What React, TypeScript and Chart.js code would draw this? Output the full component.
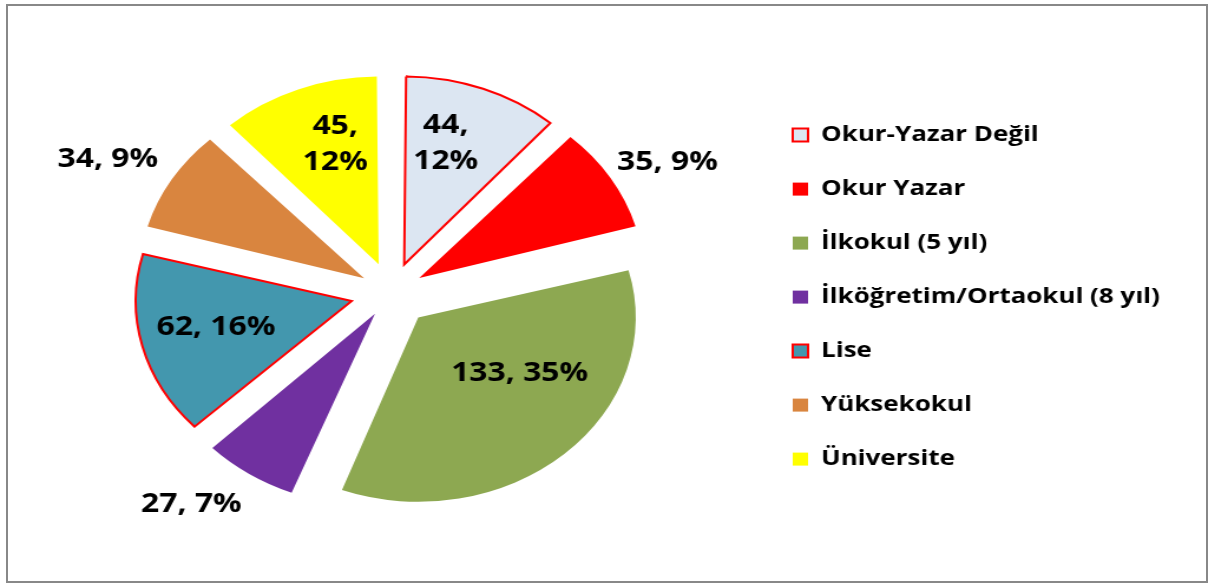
import React, { useEffect, useRef } from 'react';
import { Chart, registerables } from 'chart.js';

Chart.register(...registerables);

// ---- data ----
const categories = [
  'Okur-Yazar Değil',
  'Okur Yazar',
  'İlkokul (5 yıl)',
  'İlköğretim/Ortaokul (8 yıl)',
  'Lise',
  'Yüksekokul',
  'Üniversite',
];
const counts = [44, 35, 133, 27, 62, 34, 45];
const percents = [12, 9, 35, 7, 16, 9, 12];

// ---- styles ----
const fillColors = ['#DCE6F2', '#FF0000', '#8DA851', '#7030A0', '#4397AE', '#D9853F', '#FFFF00'];
const borderColors = ['#FF0000', '#FF0000', '#8DA851', '#7030A0', '#FF0000', '#D9853F', '#FFFF00'];
const borderWidths = [2, 0, 0, 0, 2, 0, 0];
const labelRadius = [0.65, 1.28, 0.54, 1.3, 0.634, 1.32, 0.65];
const labelAngleShift = [-5, 3, -16, 6, 1.6, -2.7, 4.6];
const labelSplit = [true, false, false, false, false, false, true];

const FONT_FAMILY = '"Open Sans", "Noto Sans", sans-serif';
const CANVAS_W = 1024; // drawn narrower, then stretched horizontally like the original
const CANVAS_H = 585;
const DISPLAY_W = 1208;
const PIE_RADIUS = 178;
const EXPLODE = 40;
const LEGEND_W = 384;

const total = counts.reduce((a, b) => a + b, 0);

const legendWidthPlugin = {
  id: 'legendWidth',
  beforeLayout(chart: any) {
    const lg = chart.legend;
    if (lg && !lg.__patched) {
      const orig = lg.fit;
      lg.fit = function () {
        orig.call(this);
        this.width = LEGEND_W;
      };
      lg.__patched = true;
    }
  },
};

const sliceLabelPlugin = {
  id: 'sliceLabels',
  afterDatasetsDraw(chart: any) {
    const ctx = chart.ctx;
    const meta = chart.getDatasetMeta(0);
    ctx.save();
    ctx.font = `bold 27px ${FONT_FAMILY}`;
    ctx.fillStyle = '#000000';
    ctx.textAlign = 'center';
    ctx.textBaseline = 'middle';
    meta.data.forEach((arc: any, i: number) => {
      const p = arc.getProps(['x', 'y', 'startAngle', 'endAngle', 'outerRadius', 'circumference'], true);
      const off = (arc.options.offset || 0) / 4;
      const fix = 1 - Math.sin(Math.min(Math.PI, p.circumference || 0));
      const actual = off * (1 + fix);
      const mid = (p.startAngle + p.endAngle) / 2;
      const ax = p.x + Math.cos(mid) * actual;
      const ay = p.y + Math.sin(mid) * actual;
      const a = mid + (labelAngleShift[i] * Math.PI) / 180;
      const r = labelRadius[i] * p.outerRadius;
      const lx = ax + Math.cos(a) * r;
      const ly = ay + Math.sin(a) * r;
      const lines = labelSplit[i]
        ? [`${counts[i]},`, `${percents[i]}%`]
        : [`${counts[i]}, ${percents[i]}%`];
      const lh = 36;
      lines.forEach((t, k) => ctx.fillText(t, lx, ly + (k - (lines.length - 1) / 2) * lh));
    });
    ctx.restore();
  },
};

export default function App() {
  const ref = useRef<HTMLCanvasElement | null>(null);

  useEffect(() => {
    if (!ref.current) return;
    const chart = new Chart(ref.current, {
      type: 'pie',
      data: {
        labels: categories,
        datasets: [
          {
            data: counts,
            backgroundColor: fillColors,
            borderColor: borderColors,
            borderWidth: borderWidths,
            borderJoinStyle: 'miter',
            clip: false,
            offset: (c: any) => {
              const v = counts[c.dataIndex] || 0;
              const circ = (v / total) * 2 * Math.PI;
              const fix = 1 - Math.sin(Math.min(Math.PI, circ));
              return (4 * EXPLODE) / (1 + fix);
            },
          } as any,
        ],
      },
      options: {
        responsive: false,
        animation: false,
        devicePixelRatio: 1,
        events: [],
        radius: PIE_RADIUS,
        layout: { padding: { left: 24, right: 0, top: 0, bottom: 0 } },
        plugins: {
          legend: {
            position: 'right',
            align: 'center',
            title: { display: true, text: ' ', font: { size: 1 }, padding: { top: 4, bottom: 4 } },
            labels: {
              boxWidth: 13,
              boxHeight: 13,
              padding: 32,
              color: '#000000',
              font: { family: FONT_FAMILY, size: 22, weight: 'bold' },
            },
          },
          tooltip: { enabled: false },
        },
      } as any,
      plugins: [legendWidthPlugin, sliceLabelPlugin],
    });
    return () => chart.destroy();
  }, []);

  return (
    <div>
      <canvas
        ref={ref}
        width={CANVAS_W}
        height={CANVAS_H}
        style={{
          position: 'fixed',
          left: 0,
          top: 0,
          width: `${DISPLAY_W}px`,
          height: `${CANVAS_H}px`,
          background: '#ffffff',
        }}
      />
      <div
        style={{
          position: 'fixed',
          left: 6,
          top: 4,
          width: 1202,
          height: 579,
          boxSizing: 'border-box',
          border: '2px solid #888888',
          pointerEvents: 'none',
        }}
      />
    </div>
  );
}
